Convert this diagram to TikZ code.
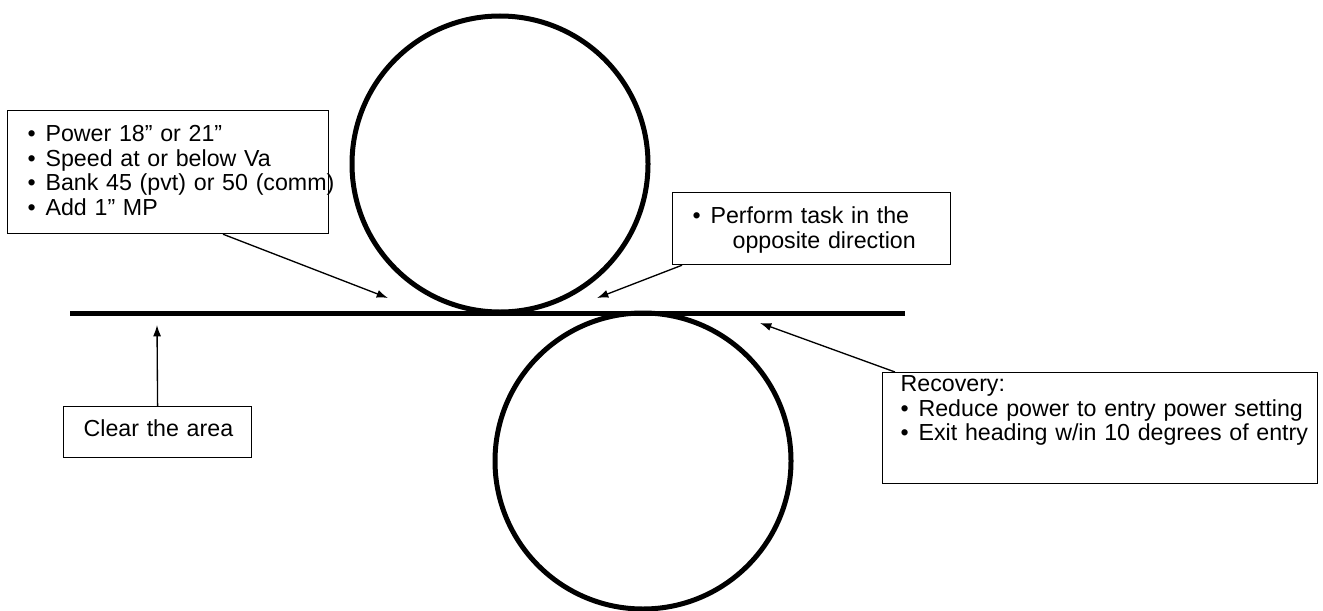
\documentclass[tikz,border=0pt]{standalone}
\usepackage{fontspec}
\setmainfont{Liberation Sans}
\usepackage{tikz}
\usetikzlibrary{arrows,arrows.meta,positioning,calc}
\newcommand{\itm}[1]{\mbox{\makebox[13.5pt][l]{\textbullet}#1}}

\begin{document}
\begin{tikzpicture}[x=0.75pt,y=-0.75pt,
			note/.style={rectangle, draw, line width=0.9pt, anchor=north west, align=left, inner xsep=15pt, inner ysep=0pt, font=\fontsize{17.4}{18.5}\selectfont},
			ring/.style={circle, draw, line width=3.75pt, minimum size=222pt, inner sep=0pt},
			pointer/.style={-{Latex[length=8.5pt,width=6pt]}, line width=1pt}]
			\useasboundingbox (0,0) rectangle (1323,610);
			% the ground line and the two turns
			\coordinate (gl) at (70,313);
			\coordinate (gr) at (905,313);
			\draw[line width=3.75pt] (gl) -- (gr);
			\node at (500,164) [ring] (upper) {};
			\node at (643,461) [ring] (lower) {};
			% notes
			\node at (7,110) [note, text width=210.75pt, text height=23.25pt, text depth=69pt] (power) {\itm{Power 18” or 21”}\\ \itm{Speed at or below Va}\\ \itm{Bank 45 (pvt) or 50 (comm)}\\ \itm{Add 1” MP}};
			\node at (672,192) [note, text width=178.5pt, text height=23.25pt, text depth=30.75pt] (task) {\itm{Perform task in the}\\ \hspace*{30pt}opposite direction};
			\node at (63,406) [note, text width=111pt, text height=22.5pt, text depth=15.75pt] (clear) {\mbox{Clear the area}};
			\node at (882,372) [note, inner xsep=13.5pt, text width=299.25pt, text height=14.25pt, text depth=69pt] (recov) {Recovery:\\ \itm{Reduce power to entry power setting}\\ \itm{Exit heading w/in 10 degrees of entry}};
			% arrows
			\coordinate (tipA) at (388,298);
			\coordinate (tipB) at (597,298);
			\coordinate (tipC) at (157,325);
			\coordinate (tipD) at (760,323);
			\draw[pointer] ([xshift=162pt]power.south west) -- (tipA);
			\draw[pointer] ([xshift=7.5pt]task.south west) -- (tipB);
			\draw[pointer] (clear.north) -- (tipC);
			\draw[pointer] ([xshift=9.75pt]recov.north west) -- (tipD);
		\end{tikzpicture}
\end{document}
